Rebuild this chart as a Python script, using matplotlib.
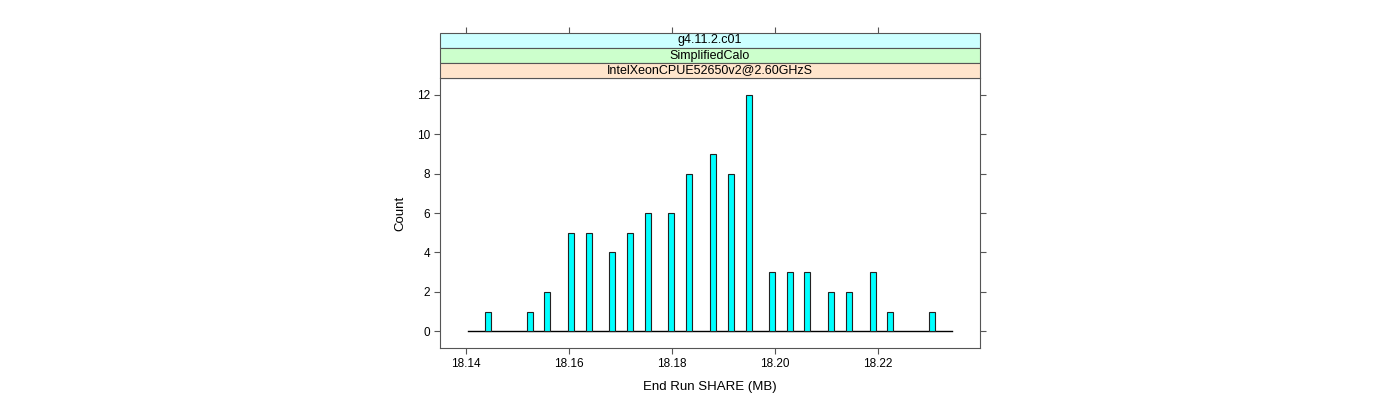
import matplotlib.pyplot as plt
from matplotlib.patches import Rectangle

# bar centres (MB) and counts
share = [18.1443, 18.1524, 18.1557, 18.1604, 18.1639, 18.1683, 18.1718,
         18.1753, 18.1798, 18.1833, 18.1880, 18.1915, 18.1950, 18.1994,
         18.2029, 18.2062, 18.2109, 18.2144, 18.2190, 18.2223, 18.2305]
counts = [1, 1, 2, 5, 5, 4, 5, 6, 6, 8, 9, 8, 12, 3, 3, 3, 2, 2, 3, 1, 1]
strip_labels = ["g4.11.2.c01", "SimplifiedCalo", "IntelXeonCPUE52650v2@2.60GHzS"]
strip_colors = ["#ccffff", "#ccffcc", "#ffe5cc"]
xticks = [18.14, 18.16, 18.18, 18.20, 18.22]
yticks = [0, 2, 4, 6, 8, 10, 12]

plt.rcParams['font.family'] = ['Liberation Sans', 'DejaVu Sans']
frame = "#555555"

fig = plt.figure(figsize=(14, 4), dpi=100)
ax = fig.add_axes([440/1400, 1-348/400, 540/1400, 270/400])
xlim = (18.13495, 18.2398)

ax.plot([18.1404, 18.2344], [0, 0], color="black", lw=1, zorder=1)
ax.bar(share, counts, width=0.0012, color="#00ffff", edgecolor="#222222",
       linewidth=0.8, zorder=2)
ax.set_xlim(*xlim)
ax.set_ylim(-0.84, 12.84)
ax.set_xticks(xticks)
ax.set_xticklabels(["%.2f" % t for t in xticks], fontsize=8.5)
ax.set_yticks(yticks)
ax.set_yticklabels([str(t) for t in yticks], fontsize=8.5)
ax.tick_params(axis="both", direction="out", length=4, color=frame,
               right=True, labelright=False, pad=3)
for s in ax.spines.values():
    s.set_color(frame)
ax.set_xlabel("End Run SHARE (MB)", fontsize=9.5, labelpad=8)
ax.set_ylabel("Count", fontsize=9.5, labelpad=8)

# strips on top
sax = fig.add_axes([440/1400, 1-78/400, 540/1400, 45/400])
sax.set_xlim(*xlim)
sax.set_ylim(0, 3)
for i, (lab, col) in enumerate(zip(strip_labels, strip_colors)):
    y0 = 2 - i
    sax.add_patch(Rectangle((xlim[0], y0), xlim[1]-xlim[0], 1, facecolor=col,
                            edgecolor=frame, linewidth=0.8, clip_on=False))
    sax.text(sum(xlim)/2, y0 + 0.5, lab, ha="center", va="center", fontsize=9)
sax.set_xticks(xticks)
sax.tick_params(axis="x", direction="out", length=4, color=frame,
                bottom=False, labelbottom=False, top=True, labeltop=False)
sax.set_yticks([])
for s in sax.spines.values():
    s.set_visible(False)

fig.savefig("out.png", dpi=100)
